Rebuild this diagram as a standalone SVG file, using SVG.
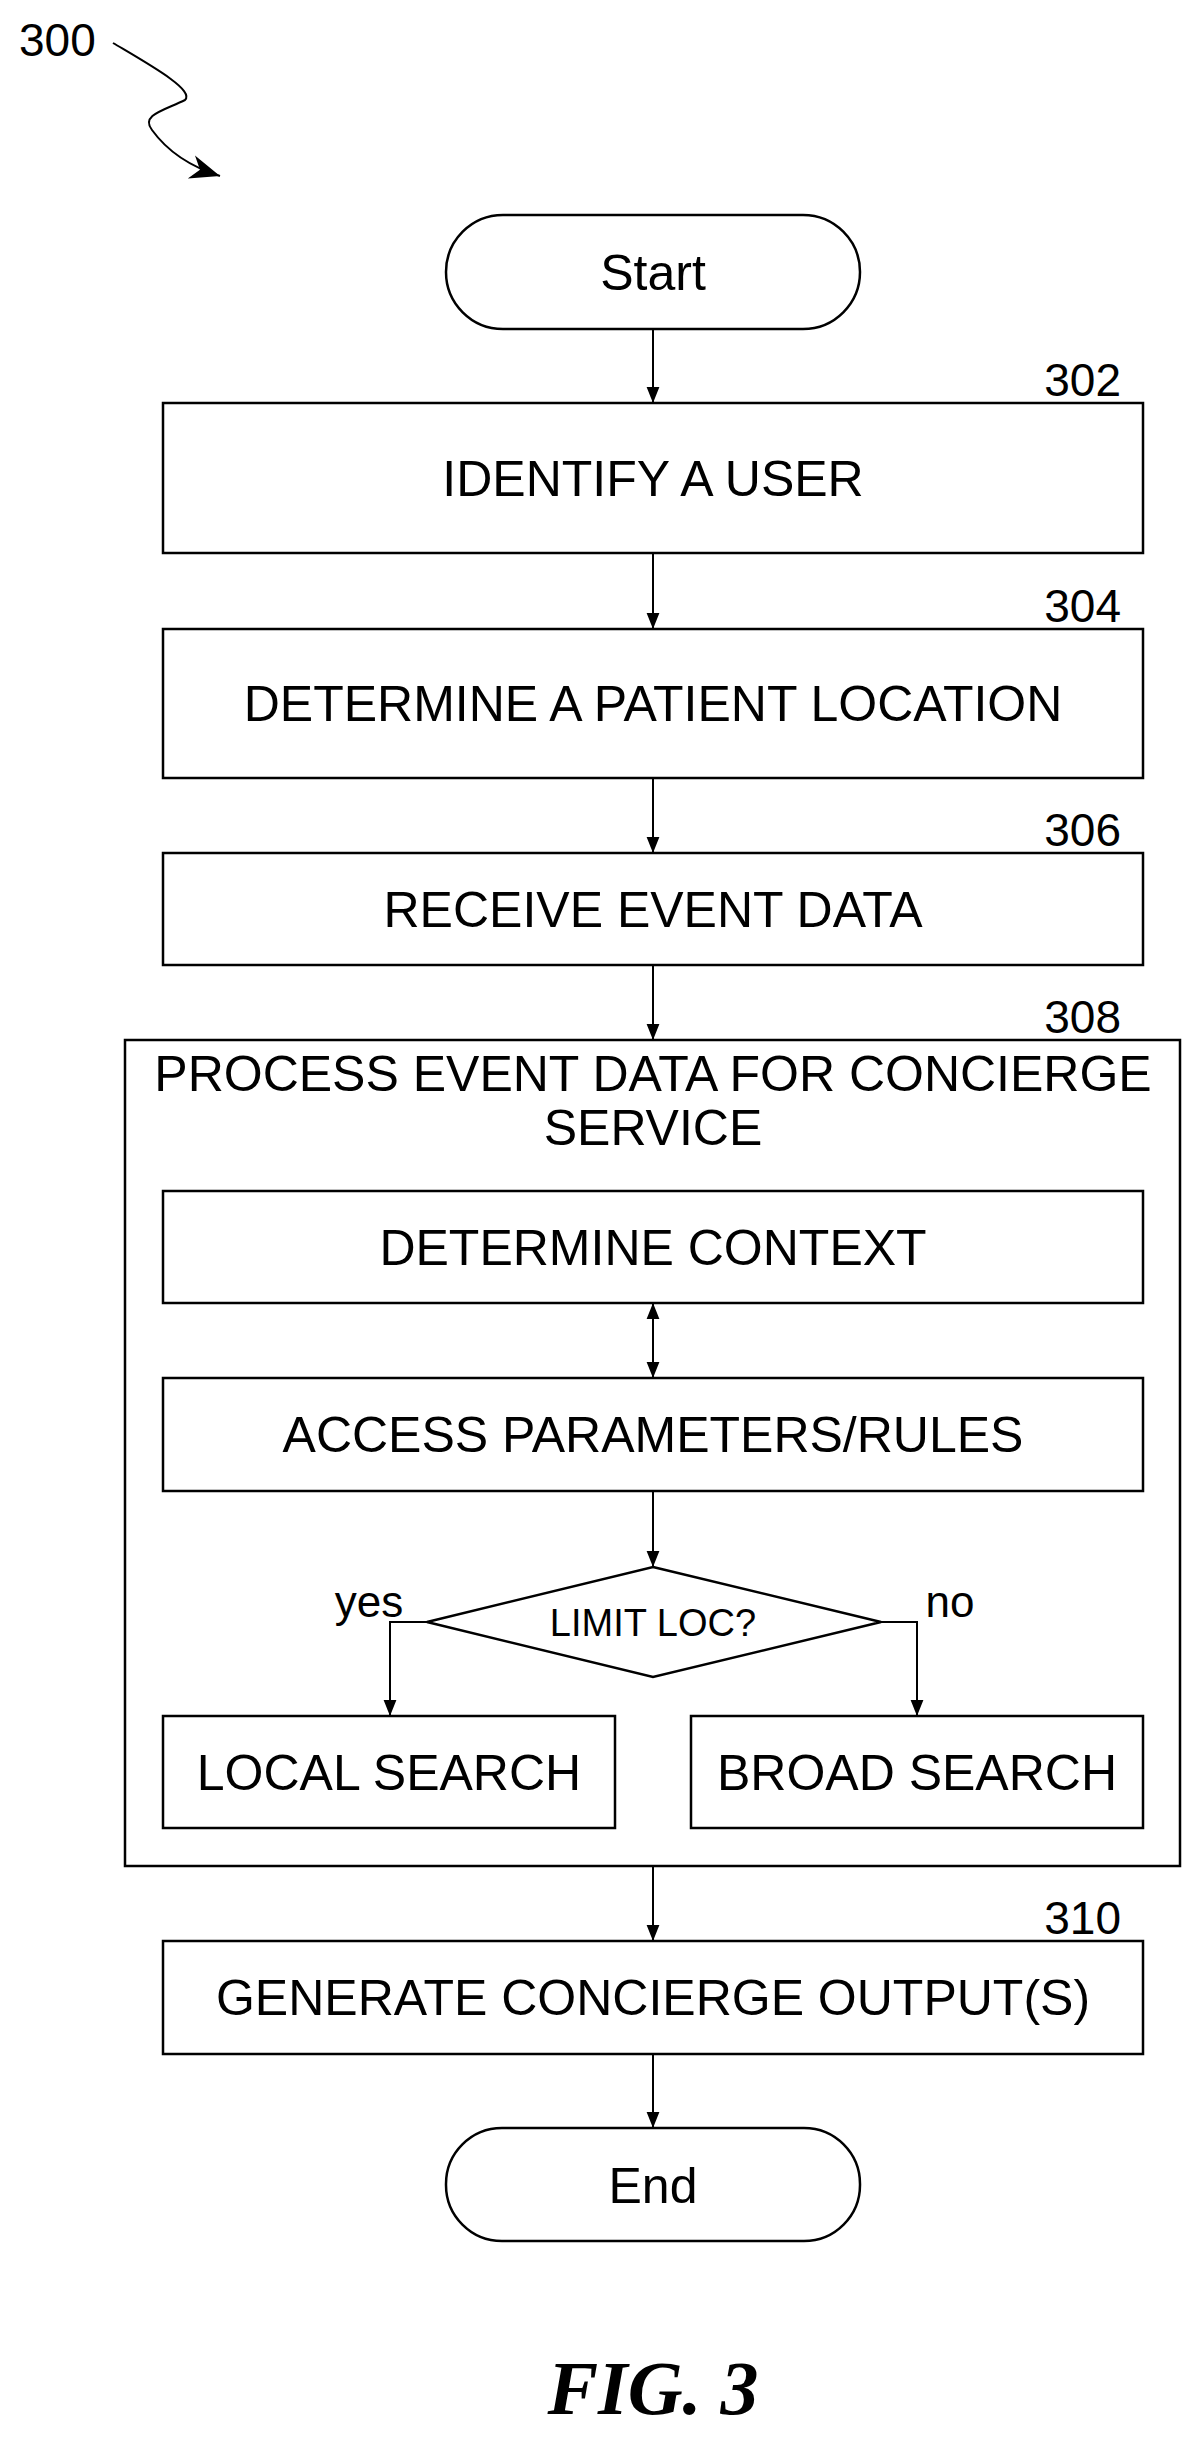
<svg xmlns="http://www.w3.org/2000/svg" width="1197" height="2438" viewBox="0 0 1197 2438">
<style>
.b{fill:#fff;stroke:#000;stroke-width:2.5}
.t{font-family:"Liberation Sans",Arial,sans-serif;font-size:50px;text-anchor:middle;fill:#000}
.n{font-family:"Liberation Sans",Arial,sans-serif;font-size:46px;text-anchor:end;fill:#000}
.c{fill:none;stroke:#000;stroke-width:2}
</style>
<defs>
<marker id="a" viewBox="0 0 10 10" refX="10" refY="5" markerWidth="16" markerHeight="16" markerUnits="userSpaceOnUse" orient="auto-start-reverse"><path d="M0,1 L10,5 L0,9 Z" fill="#000"/></marker>
<marker id="a2" viewBox="0 0 10 10" refX="10" refY="5" markerWidth="30" markerHeight="30" markerUnits="userSpaceOnUse" orient="auto"><path d="M0,1 L10,5 L0,9 L3,5 Z" fill="#000"/></marker>
</defs>
<rect width="1197" height="2438" fill="#fff"/>
<g id="ref300"><text x="19" y="56" font-family="Liberation Sans,Arial,sans-serif" font-size="46" fill="#000">300</text>
<path class="c" d="M113,43 C150,65 195,90 185,100 C165,110 140,115 152,130 C165,148 185,165 220,176" marker-end="url(#a2)"/></g>
<g id="start"><rect class="b" x="446" y="215" width="414" height="114" rx="57"/><text class="t" x="653" y="290">Start</text></g>
<g id="n302"><rect class="b" x="163" y="403" width="980" height="150"/><text class="t" x="653" y="496">IDENTIFY A USER</text><text class="n" x="1121" y="396">302</text></g>
<g id="n304"><rect class="b" x="163" y="629" width="980" height="149"/><text class="t" x="653" y="721">DETERMINE A PATIENT LOCATION</text><text class="n" x="1121" y="622">304</text></g>
<g id="n306"><rect class="b" x="163" y="853" width="980" height="112"/><text class="t" x="653" y="927">RECEIVE EVENT DATA</text><text class="n" x="1121" y="846">306</text></g>
<g id="n308"><rect class="b" x="125" y="1040" width="1055" height="826"/><text class="t" x="653" y="1091">PROCESS EVENT DATA FOR CONCIERGE</text><text class="t" x="653" y="1145">SERVICE</text><text class="n" x="1121" y="1033">308</text></g>
<g id="ctx"><rect class="b" x="163" y="1191" width="980" height="112"/><text class="t" x="653" y="1265">DETERMINE CONTEXT</text></g>
<g id="acc"><rect class="b" x="163" y="1378" width="980" height="113"/><text class="t" x="653" y="1452">ACCESS PARAMETERS/RULES</text></g>
<g id="dec"><path class="b" d="M653,1567 L881,1622 L653,1677 L427,1622 Z"/><text class="t" x="653" y="1636" style="font-size:38px">LIMIT LOC?</text><text class="t" x="369" y="1617" style="font-size:44px">yes</text><text class="t" x="950" y="1617" style="font-size:44px">no</text></g>
<g id="loc"><rect class="b" x="163" y="1716" width="452" height="112"/><text class="t" x="389" y="1790">LOCAL SEARCH</text></g>
<g id="brd"><rect class="b" x="691" y="1716" width="452" height="112"/><text class="t" x="917" y="1790">BROAD SEARCH</text></g>
<g id="n310"><rect class="b" x="163" y="1941" width="980" height="113"/><text class="t" x="653" y="2015">GENERATE CONCIERGE OUTPUT(S)</text><text class="n" x="1121" y="1934">310</text></g>
<g id="end"><rect class="b" x="446" y="2128" width="414" height="113" rx="56"/><text class="t" x="653" y="2203">End</text></g>
<text x="653" y="2414" text-anchor="middle" font-family="Liberation Serif,serif" font-style="italic" font-weight="bold" font-size="76" fill="#000">FIG. 3</text>
<g id="connectors" class="c">
<path class="c" d="M653,329 V403" marker-end="url(#a)"/>
<path class="c" d="M653,553 V629" marker-end="url(#a)"/>
<path class="c" d="M653,778 V853" marker-end="url(#a)"/>
<path class="c" d="M653,965 V1040" marker-end="url(#a)"/>
<path class="c" d="M653,1303 V1378" marker-start="url(#a)" marker-end="url(#a)"/>
<path class="c" d="M653,1491 V1567" marker-end="url(#a)"/>
<path class="c" d="M427,1622 H390 V1716" marker-end="url(#a)"/>
<path class="c" d="M881,1622 H917 V1716" marker-end="url(#a)"/>
<path class="c" d="M653,1866 V1941" marker-end="url(#a)"/>
<path class="c" d="M653,2054 V2128" marker-end="url(#a)"/>
</g>
</svg>
